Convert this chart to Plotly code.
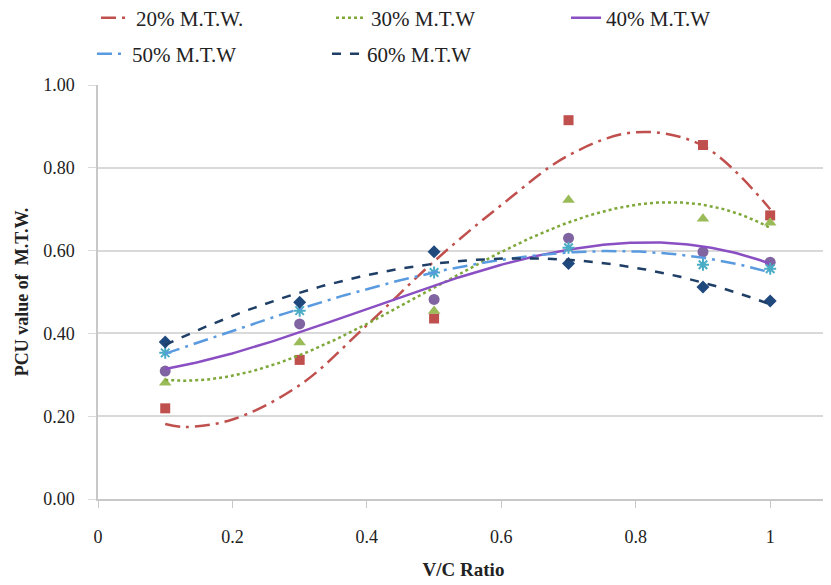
import numpy as np
import plotly.graph_objects as go

vc = [0.1, 0.3, 0.5, 0.7, 0.9, 1.0]
mtw20 = [0.219, 0.336, 0.436, 0.915, 0.855, 0.685]
mtw30 = [0.281, 0.378, 0.454, 0.722, 0.677, 0.667]
mtw40 = [0.309, 0.423, 0.482, 0.630, 0.597, 0.572]
mtw50 = [0.353, 0.455, 0.547, 0.607, 0.566, 0.556]
mtw60 = [0.379, 0.475, 0.597, 0.569, 0.512, 0.478]
names = ["20% M.T.W.", "30% M.T.W", "40% M.T.W", "50% M.T.W", "60% M.T.W"]
series = [mtw20, mtw30, mtw40, mtw50, mtw60]

# trendline of 20% series
trend20_x = [0.1, 0.13, 0.2, 0.3, 0.4, 0.5, 0.6, 0.7, 0.8, 0.9, 1.0]
trend20_y = [0.181, 0.174, 0.192, 0.275, 0.42, 0.574, 0.71, 0.83, 0.886, 0.853, 0.70]

x_ticks = [0, 0.2, 0.4, 0.6, 0.8, 1]
x_tick_labels = ["0", "0.2", "0.4", "0.6", "0.8", "1"]
y_ticks = [0, 0.2, 0.4, 0.6, 0.8, 1.0]

line_colors = ["#C0504D", "#7FA83A", "#8A4FC2", "#5A9BE0", "#1F3F66"]
marker_colors = ["#C0504D", "#9BBB59", "#8064A2", "#4BACC6", "#1F497D"]
dashes = ["longdashdot", "dot", "solid", "longdashdot", "dash"]
symbols = ["square", "triangle-up", "circle", "asterisk-open", "diamond"]
marker_sizes = [10, 11, 11, 10, 10]
legends = ["legend", "legend", "legend", "legend2", "legend2"]

fig = go.Figure()
xs = np.linspace(min(vc), max(vc), 200)
for i, (name, ys, lc, mc, d, s, ms, lg) in enumerate(zip(names, series, line_colors, marker_colors,
                                                        dashes, symbols, marker_sizes, legends)):
    fig.add_trace(go.Scatter(x=vc, y=ys, mode="markers", showlegend=False,
                             marker=dict(symbol=s, color=mc, size=ms,
                                         line=dict(color=mc, width=2 if s == "asterisk-open" else 0))))
    if i == 0:
        tx, ty, shape = trend20_x, trend20_y, "spline"
    else:
        coef = np.polyfit(vc, ys, 3)
        tx, ty, shape = xs, np.polyval(coef, xs), "linear"
    fig.add_trace(go.Scatter(x=tx, y=ty, mode="lines", name=name, legend=lg,
                             line=dict(color=lc, width=2.5, dash=d, shape=shape)))

W, H = 823, 577  # page body has an 8px margin in the 831x585 window
font_family = "Liberation Serif"
leg_common = dict(orientation="h", xref="container", yref="container", xanchor="left",
                  yanchor="middle", entrywidth=190, itemwidth=30,
                  font=dict(size=21, family=font_family, color="#222"), bgcolor="rgba(0,0,0,0)")
fig.update_layout(
    width=W, height=H,
    margin=dict(l=90, r=2, t=77, b=86, autoexpand=False),
    paper_bgcolor="white", plot_bgcolor="white",
    font=dict(family=font_family, size=17, color="#222"),
    legend=dict(x=88 / W, y=1 - 10 / H, **leg_common),
    legend2=dict(x=84 / W, y=1 - 46 / H, **leg_common),
    xaxis=dict(range=[0, 1.0875], tickvals=x_ticks, ticktext=x_tick_labels, showgrid=False,
               showline=True, linecolor="#C8C8C8", linewidth=1.5, ticks="outside", ticklen=7,
               tickcolor="#C8C8C8", zeroline=False, ticklabelstandoff=14,
               tickfont=dict(family=font_family, size=18),
               title=dict(text="<b>V/C Ratio</b>", font=dict(size=19, family=font_family), standoff=16)),
    yaxis=dict(range=[0, 1.0], tickvals=y_ticks, tickformat=".2f", showgrid=True,
               gridcolor="#D9D9D9", gridwidth=1.5, showline=True, linecolor="#C8C8C8",
               linewidth=1.5, ticks="outside", ticklen=8, tickcolor="#D9D9D9", zeroline=False,
               ticklabelstandoff=10, tickfont=dict(family=font_family, size=18),
               title=dict(text="<b>PCU value of  M.T.W.</b>", font=dict(size=18, family=font_family),
                          standoff=10)),
)
fig.write_html("out.html")
